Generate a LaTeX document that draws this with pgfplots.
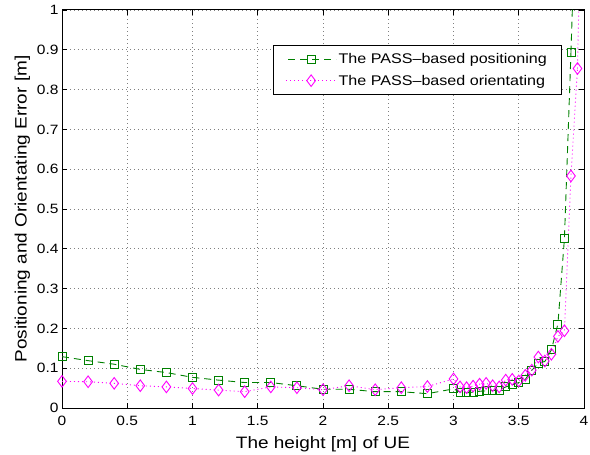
\documentclass[border=0pt]{standalone}
\usepackage{fontspec}
\setmainfont{Liberation Sans}[FakeStretch=1.15]
\usepackage{pgfplots}
\usepackage{pgfplotstable}
\pgfplotsset{compat=1.18}
\definecolor{mgreen}{rgb}{0,0.5,0}
\definecolor{mmag}{rgb}{1,0,1}

% PASS-based positioning error
\pgfplotstableread{
x y
0.00 0.129
0.20 0.119
0.40 0.110
0.60 0.097
0.80 0.089
1.00 0.077
1.20 0.070
1.40 0.064
1.60 0.064
1.80 0.056
2.00 0.047
2.20 0.047
2.40 0.041
2.60 0.041
2.80 0.036
3.00 0.048
3.05 0.040
3.10 0.038
3.15 0.040
3.20 0.042
3.25 0.043
3.30 0.044
3.35 0.045
3.40 0.053
3.45 0.058
3.50 0.064
3.55 0.072
3.60 0.095
3.65 0.112
3.70 0.117
3.75 0.146
3.80 0.211
3.85 0.426
3.90 0.893
}\tpos

% PASS-based orientating error
\pgfplotstableread{
x y
0.00 0.067
0.20 0.066
0.40 0.062
0.60 0.056
0.80 0.053
1.00 0.049
1.20 0.045
1.40 0.041
1.60 0.053
1.80 0.051
2.00 0.046
2.20 0.056
2.40 0.046
2.60 0.051
2.80 0.054
3.00 0.073
3.05 0.053
3.10 0.051
3.15 0.055
3.20 0.060
3.25 0.062
3.30 0.056
3.35 0.053
3.40 0.070
3.45 0.072
3.50 0.068
3.55 0.082
3.60 0.095
3.65 0.128
3.70 0.118
3.75 0.135
3.80 0.180
3.85 0.194
3.90 0.583
3.95 0.853
}\tori

\tikzset{
  posline/.style={draw=mgreen, color=mgreen, line width=0.9pt, dash pattern=on 7pt off 5pt},
  oriline/.style={draw=mmag, color=mmag, line width=0.9pt, dash pattern=on 1pt off 3pt},
}

\begin{document}
\begin{tikzpicture}
\begin{axis}[
  scale only axis, width=522pt, height=398pt,
  xmin=0, xmax=4, ymin=0, ymax=1,
  xtick={0,0.5,...,4}, ytick={0,0.1,...,1},
  /pgf/number format/.cd, fixed, precision=2, assume math mode=true, /pgfplots/.cd,
  tick align=inside, major tick length=5pt,
  axis line style={line width=1pt},
  tick style={line width=0.6pt, black},
  grid=major,
  grid style={gray, line width=0.6pt, dash pattern=on 0.8pt off 3.2pt},
  tick label style={font=\fontsize{13.5}{16}\selectfont},
  xticklabel style={yshift=-5pt},
  label style={font=\fontsize{16.5}{19}\selectfont},
  xlabel style={yshift=-4pt},
  xlabel={The height [m] of UE},
  ylabel={Positioning and Orientating Error [m]},
  legend cell align=left,
  legend style={at={(0.956,0.912)}, anchor=north east, fill=white,
    font=\fontsize{14}{17}\selectfont,
    inner xsep=12pt, inner ysep=6pt, row sep=6pt},
]
\addplot[posline, mark=square, mark size=4pt, mark options={solid, line width=0.9pt},
  legend image code/.code={\draw[posline, dash phase=-2pt, mark=square, mark size=4pt,
    mark options={solid, line width=0.9pt, draw=mgreen}, mark repeat=2, mark phase=2]
    plot coordinates {(0pt,0pt) (25pt,0pt) (50pt,0pt)};}]
  table[x=x, y=y] {\tpos};
\addlegendentry{The PASS--based positioning}
\addplot[oriline, mark=diamond, mark size=5.8pt, mark options={solid, line width=0.9pt},
  legend image code/.code={\draw[oriline, mark=diamond, mark size=5.8pt,
    mark options={solid, line width=0.9pt, draw=mmag}, mark repeat=2, mark phase=2]
    plot coordinates {(0pt,0pt) (25pt,0pt) (50pt,0pt)};}]
  table[x=x, y=y] {\tori};
\addlegendentry{The PASS--based orientating}
% segments running out of the top of the axis
\addplot[posline, forget plot] coordinates {(3.90,0.893) (3.95,1.40)};
\addplot[oriline, forget plot] coordinates {(3.95,0.853) (4.00,1.60)};
\end{axis}
\pgfresetboundingbox
\path ([xshift=-62pt,yshift=-46pt]current axis.south west) rectangle ([xshift=6pt,yshift=10pt]current axis.north east);
\end{tikzpicture}
\end{document}
